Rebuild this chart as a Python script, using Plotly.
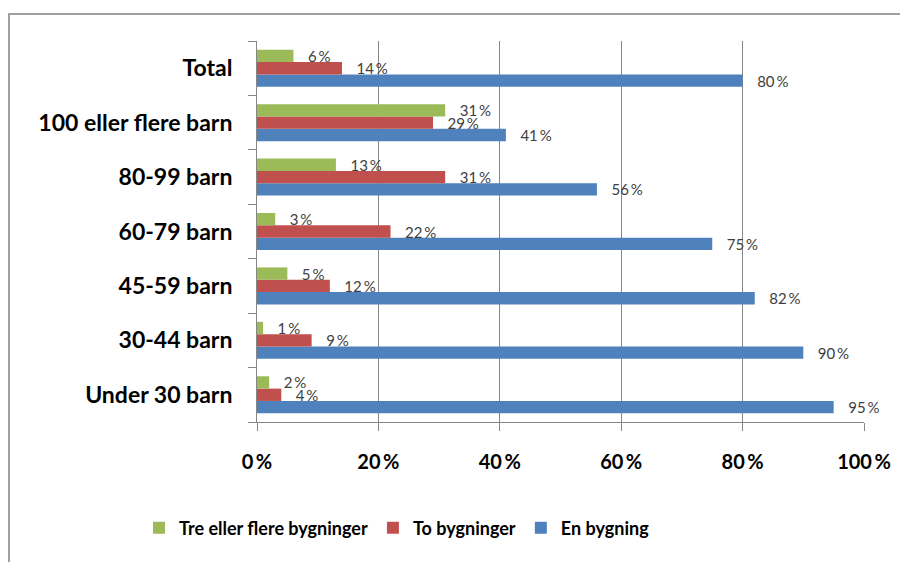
import plotly.graph_objects as go

# Data (top-to-bottom as in the picture)
categories = ["Total", "100 eller flere barn", "80-99 barn", "60-79 barn",
              "45-59 barn", "30-44 barn", "Under 30 barn"]
en_bygning = [80, 41, 56, 75, 82, 90, 95]
to_bygninger = [14, 29, 31, 22, 12, 9, 4]
tre_eller_flere = [6, 31, 13, 3, 5, 1, 2]
x_tick_vals = [0, 20, 40, 60, 80, 100]
x_tick_text = ["0\u2009%", "20\u2009%", "40\u2009%", "60\u2009%", "80\u2009%", "100\u2009%"]

series = [
    ("En bygning", en_bygning, "#4F81BD"),
    ("To bygninger", to_bygninger, "#C0504D"),
    ("Tre eller flere bygninger", tre_eller_flere, "#9BBB59"),
]

cats_bt = categories[::-1]
fig = go.Figure()
for name, vals, color in series:
    v = vals[::-1]
    fig.add_trace(go.Bar(
        y=cats_bt, x=v, name=name, orientation="h",
        marker=dict(color=color, line=dict(width=0)),
        text=["\u00a0\u00a0\u00a0" + str(a) + "\u2009%" for a in v],
        texttemplate="%{text}",
        textposition="outside", constraintext="none", cliponaxis=False,
        textfont=dict(family="Lato", size=15, color="#404040"),
    ))

# page has an 8px body margin, so figure is 900x554 placed at (8,8)
W, H = 900, 554
L, R, T, B = 249, 44, 33, 140
pw, ph = W - L - R, H - T - B
bx = (1 - L) / pw
by = (H - B - 6) / ph

fig.update_layout(
    width=W, height=H,
    margin=dict(l=L, r=R, t=T, b=B),
    paper_bgcolor="white", plot_bgcolor="white",
    barmode="group", bargap=0.32, bargroupgap=0,
    font=dict(family="Lato", color="#000000"),
    showlegend=True,
    legend=dict(orientation="h", traceorder="reversed",
                x=(131 - L) / pw, xanchor="left",
                y=(H - B - 520) / ph, yanchor="middle",
                font=dict(family="Lato", size=18, color="#000000", weight="bold"),
                itemwidth=30, bgcolor="rgba(0,0,0,0)"),
    xaxis=dict(range=[0, 100], tickvals=x_tick_vals, ticktext=x_tick_text,
               showgrid=True, gridcolor="#868686", gridwidth=1,
               showline=True, linecolor="#868686", linewidth=1,
               ticks="outside", ticklen=8, tickcolor="#868686",
               ticklabelstandoff=14,
               tickfont=dict(family="Lato", size=20, color="#000000", weight="bold"),
               zeroline=False, fixedrange=True),
    yaxis=dict(showline=True, linecolor="#868686", linewidth=1,
               ticks="outside", ticklen=8, tickcolor="#868686",
               tickson="boundaries", ticklabelstandoff=19,
               tickfont=dict(family="Lato", size=23, color="#000000", weight="bold"),
               showgrid=False, fixedrange=True),
    shapes=[dict(type="path", xref="paper", yref="paper",
                 path=f"M {bx},{-1} L {bx},{by} L {1.5},{by}",
                 line=dict(color="#A0A0A0", width=2))],
)

fig.write_html("out.html")
